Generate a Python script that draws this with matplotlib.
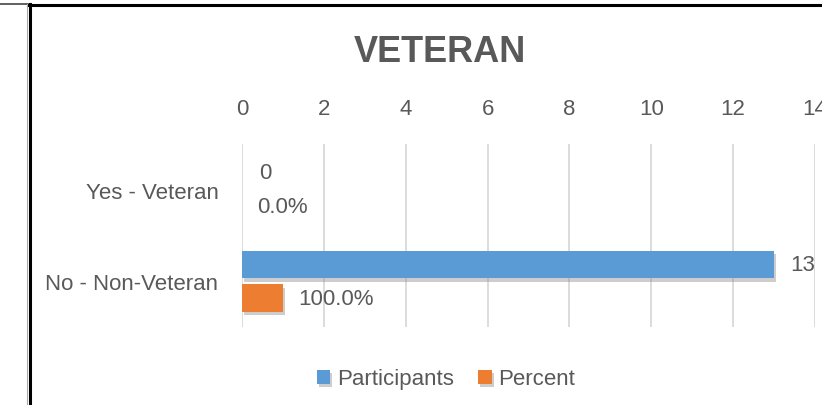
import matplotlib.pyplot as plt
import matplotlib.patheffects as pe
from matplotlib.lines import Line2D
import numpy as np

categories = ['Yes - Veteran', 'No - Non-Veteran']
participants = [0, 13]
percent = [0.0, 1.0]
participant_labels = ['0', '13']
percent_labels = ['0.0%', '100.0%']
xticks = [0, 2, 4, 6, 8, 10, 12, 14]

plt.rcParams['font.family'] = ['Liberation Sans', 'DejaVu Sans']
grey = '#595959'
fs = 16

fig = plt.figure(figsize=(8.22, 4.06), dpi=100)
ax = fig.add_axes([242 / 822, 1 - 328 / 406, 573 / 822, 183 / 406])

y = np.arange(len(categories))
h = 0.3
off = 0.185
shadow = [pe.SimplePatchShadow(offset=(1.5, -2.5), shadow_rgbFace='#909090', alpha=0.45), pe.Normal()]

b1 = ax.barh(y - off, participants, height=h, color='#5B9BD5', linewidth=0,
             label='Participants', path_effects=shadow)
b2 = ax.barh(y + off, percent, height=h, color='#ED7D31', linewidth=0,
             label='Percent', path_effects=shadow)

ax.bar_label(b1, labels=participant_labels, padding=12, fontsize=fs, color=grey)
ax.bar_label(b2, labels=percent_labels, padding=11, fontsize=fs, color=grey)

ax.set_xlim(0, 14)
ax.set_ylim(1.5, -0.5)
ax.set_xticks(xticks)
ax.set_yticks(y)
ax.set_yticklabels(categories)
ax.xaxis.tick_top()
ax.tick_params(axis='x', length=0, pad=18, labelsize=fs, labelcolor=grey)
ax.tick_params(axis='y', length=0, pad=17, labelsize=fs, labelcolor=grey)
ax.grid(axis='x', color='#D9D9D9', linewidth=1.3)
ax.set_axisbelow(True)
for s in ax.spines.values():
    s.set_visible(False)

fig.text(440 / 822, 1 - 53 / 406, 'VETERAN', ha='center', va='center',
         fontsize=26, fontweight='bold', color=grey)

fig.legend(loc='center', bbox_to_anchor=(446 / 822, 1 - 380 / 406), ncol=2,
           frameon=False, fontsize=fs, labelcolor=grey, handlelength=0.6,
           handleheight=0.6, handletextpad=0.3, columnspacing=1.1)

# outer frame lines
fig.add_artist(Line2D([0, 28 / 822], [1 - 4.5 / 406] * 2, transform=fig.transFigure,
                      color='#444444', linewidth=1.2))
fig.add_artist(Line2D([28 / 822, 1], [1 - 6 / 406] * 2, transform=fig.transFigure,
                      color='black', linewidth=2.2))
fig.add_artist(Line2D([29.5 / 822] * 2, [0, 1 - 5 / 406], transform=fig.transFigure,
                      color='black', linewidth=2.2))
fig.add_artist(Line2D([27.3 / 822] * 2, [0, 1 - 5 / 406], transform=fig.transFigure,
                      color='#AAAAAA', linewidth=0.8))

fig.savefig('out.png', dpi=100)
